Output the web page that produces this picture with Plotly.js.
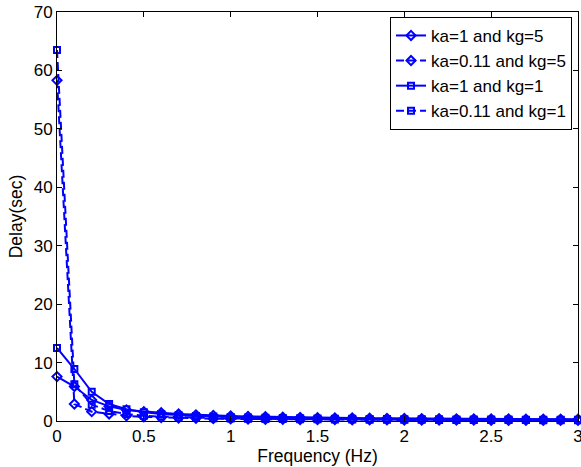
<!DOCTYPE html>
<html>
<head>
<meta charset="utf-8">
<script src="https://cdn.plot.ly/plotly-3.0.1.min.js"></script>
<style>html,body{margin:0;padding:0;background:#fff;}#chart{width:581px;height:467px;}</style>
</head>
<body>
<div id="chart"></div>
<script>
var freq = [0,0.1,0.2,0.3,0.4,0.5,0.6,0.7,0.8,0.9,1.0,1.1,1.2,1.3,1.4,1.5,1.6,1.7,1.8,1.9,2.0,2.1,2.2,2.3,2.4,2.5,2.6,2.7,2.8,2.9,3.0];
var ka1kg5 = [7.6,5.9,3.6,2.5,1.9,1.6,1.4,1.2,1.05,0.95,0.85,0.78,0.72,0.66,0.61,0.57,0.53,0.5,0.47,0.45,0.43,0.41,0.39,0.37,0.36,0.34,0.33,0.32,0.31,0.3,0.29];
var ka011kg5 = [58.3,2.9,1.6,1.2,0.9,0.7,0.6,0.5,0.45,0.4,0.36,0.33,0.3,0.28,0.26,0.24,0.23,0.21,0.2,0.19,0.18,0.17,0.16,0.16,0.15,0.14,0.14,0.13,0.13,0.12,0.12];
var ka1kg1 = [12.5,8.9,5.0,2.9,2.0,1.5,1.2,1.0,0.85,0.75,0.67,0.6,0.55,0.5,0.46,0.43,0.4,0.37,0.35,0.33,0.31,0.3,0.28,0.27,0.26,0.25,0.24,0.23,0.22,0.21,0.2];
var ka011kg1 = [63.5,6.3,2.8,1.7,1.2,0.9,0.75,0.64,0.55,0.48,0.43,0.39,0.36,0.33,0.3,0.28,0.26,0.25,0.23,0.22,0.21,0.2,0.19,0.18,0.17,0.16,0.16,0.15,0.14,0.14,0.13];
var names = ["ka=1 and kg=5","ka=0.11 and kg=5","ka=1 and kg=1","ka=0.11 and kg=1"];
var xTicks = [0,0.5,1,1.5,2,2.5,3];
var yTicks = [0,10,20,30,40,50,60,70];

var blue = "#0000ff";
var fam = "Liberation Sans, Arial, sans-serif";
function tr(y, name, sym, size, dash){
  return {x: freq, y: y, name: name, type: "scatter", mode: "lines+markers", cliponaxis: false,
    line: {color: blue, width: 2, dash: dash},
    marker: {symbol: sym, size: size, color: blue, line: {color: blue, width: 2}}};
}
var data = [
  tr(ka1kg5, names[0], "diamond-open", 7, "solid"),
  tr(ka011kg5, names[1], "diamond-open", 7, "8px,4px"),
  tr(ka1kg1, names[2], "square-open", 6, "solid"),
  tr(ka011kg1, names[3], "square-open", 6, "8px,4px")
];
var axisCommon = {showgrid: false, zeroline: false, showline: true, mirror: "ticks",
  linecolor: "#000", linewidth: 1, ticks: "inside", ticklen: 5, tickcolor: "#000",
  ticklabeloverflow: "allow",
  tickfont: {family: fam, size: 17, color: "#000"}};
var layout = {
  width: 581, height: 467,
  margin: {l: 57, r: 3, t: 12, b: 46},
  paper_bgcolor: "#fff", plot_bgcolor: "#fff",
  showlegend: true,
  legend: {x: 0.9885, xanchor: "right", y: 0.988, yanchor: "top",
    bgcolor: "#fff", bordercolor: "#000", borderwidth: 1,
    font: {family: fam, size: 17, color: "#000"},
    tracegroupgap: 0},
  xaxis: Object.assign({}, axisCommon, {range: [0, 3], tickvals: xTicks, ticktext: xTicks.map(String),
    title: {text: "Frequency (Hz)", standoff: 2, font: {family: fam, size: 17.5, color: "#000"}}}),
  yaxis: Object.assign({}, axisCommon, {range: [0, 70], tickvals: yTicks, ticktext: yTicks.map(String),
    title: {text: "Delay(sec)", standoff: 6, font: {family: fam, size: 17.5, color: "#000"}}})
};
Plotly.newPlot("chart", data, layout, {displayModeBar: false, staticPlot: true});
</script>
</body>
</html>
